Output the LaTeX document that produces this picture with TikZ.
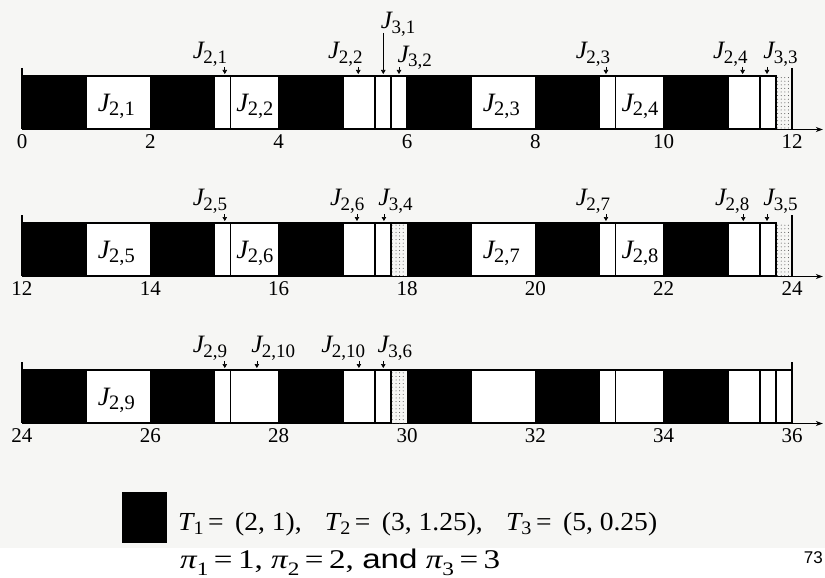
\documentclass[tikz,border=0pt]{standalone}
\usepackage{fontspec}
\usepackage{graphicx}
\setmainfont{Liberation Serif}
\newfontfamily\arialf{Liberation Sans}
\usetikzlibrary{arrows.meta,patterns.meta}
\definecolor{bg}{RGB}{246,246,244}
% J with subscript: #1 = subscript, #2 = lowering in pt
\newcommand{\Jm}[2]{{\fontsize{25}{27}\selectfont\itshape J}\kern-0.5pt\raisebox{-#2pt}{\fontsize{19}{20}\selectfont #1}}
\newcommand{\Jb}[1]{{\fontsize{26.5}{28}\selectfont\itshape J}\kern-0.5pt\raisebox{-4pt}{\fontsize{20.5}{22}\selectfont #1}}
\newcommand{\Tm}[1]{{\itshape T}\raisebox{-4pt}{\fontsize{19}{20}\selectfont #1}}
\newcommand{\Pm}[1]{{\itshape π}\raisebox{-7pt}{\fontsize{19}{20}\selectfont #1}}
\tikzset{
  wbox/.style={draw=black, fill=white, line width=1.4pt},
  bbox/.style={fill=black},
  dotbox/.style={fill=white, pattern={Dots[distance=3.6pt,radius=0.5pt]}, pattern color=black!75},
  edge/.style={draw=black, line width=1.2pt},
  axisline/.style={draw=black, line width=1.2pt, -{Stealth[length=7pt,width=5pt]}},
  jarrow/.style={draw=black, line width=0.6pt, -{Triangle[length=4pt,width=4.5pt]}},
  num/.style={font=\fontsize{21}{23}\selectfont, inner sep=0},
  blab/.style={inner sep=0},
  tlab/.style={inner sep=0}
}
\begin{document}
\begin{tikzpicture}[x=1pt,y=-1pt]
\useasboundingbox (0,0) rectangle (825,578);
\fill[bg] (0,0) rectangle (825,548);

\foreach \r in {0,1,2}{
 \begin{scope}[xshift=22pt, yshift={-\r*147pt}, x=64.17pt]
  \foreach \a in {0,2,4,6,8,10} \fill[bbox] (\a,76) rectangle (\a+1,129);
  \foreach \a/\b in {1/2,3/3.25,3.25/4,5/5.5,5.5/5.75,7/8,9/9.25,9.25/10,11/11.5,11.5/11.75}
     \draw[wbox] (\a,76) rectangle (\b,129);
  \draw[edge] (0,68) -- (0,129);
  \draw[edge] (12,68) -- (12,129);
  \coordinate (ax0-\r) at (0,129.5);
  \coordinate (ax1-\r) at (12.48,129.5);
  \draw[axisline] (ax0-\r) -- (ax1-\r);
  \foreach \k in {0,...,6}{
    \pgfmathtruncatemacro{\lab}{12*\r+2*\k}
    \node[num] (n-\r-\k) at (2*\k,142) {\lab};
  }
 \end{scope}
}

% ---------- row 1 ----------
\begin{scope}[xshift=22pt, x=64.17pt]
  \draw[wbox] (5.75,76) rectangle (6,129);
  \fill[dotbox] (11.75,77) rectangle (11.98,129);
  \draw[edge] (0,76) -- (11.75,76);
  \node[blab] (b21) at (1.47,106) {\Jb{2,1}};
  \node[blab] (b22) at (3.63,106) {\Jb{2,2}};
  \node[blab] (b23) at (7.47,106) {\Jb{2,3}};
  \node[blab] (b24) at (9.63,106) {\Jb{2,4}};
  % arrows
  \node[tlab, anchor=base east] (t21) at (3.2,59) {\Jm{2,1}{5}};
  \coordinate (s21) at (3.16,67); \coordinate (e21) at (3.16,74);
  \draw[jarrow] (s21) -- (e21);
  \node[tlab, anchor=base east] (t22) at (5.31,59) {\Jm{2,2}{5}};
  \coordinate (s22) at (5.24,67); \coordinate (e22) at (5.24,74);
  \draw[jarrow] (s22) -- (e22);
  \node[tlab, anchor=base west] (t31) at (5.59,29) {\Jm{3,1}{5}};
  \coordinate (s31) at (5.63,33); \coordinate (e31) at (5.63,74);
  \draw[jarrow] (s31) -- (e31);
  \node[tlab, anchor=base west] (t32) at (5.85,63) {\Jm{3,2}{4}};
  \coordinate (s32) at (5.875,67); \coordinate (e32) at (5.875,74);
  \draw[jarrow] (s32) -- (e32);
  \node[tlab, anchor=base east] (t23) at (9.17,59) {\Jm{2,3}{5}};
  \coordinate (s23) at (9.1,67); \coordinate (e23) at (9.1,74);
  \draw[jarrow] (s23) -- (e23);
  \node[tlab, anchor=base east] (t24) at (11.31,59) {\Jm{2,4}{5}};
  \coordinate (s24) at (11.23,67); \coordinate (e24) at (11.23,74);
  \draw[jarrow] (s24) -- (e24);
  \node[tlab, anchor=base west] (t33) at (11.55,59) {\Jm{3,3}{5}};
  \coordinate (s33) at (11.61,67); \coordinate (e33) at (11.61,74);
  \draw[jarrow] (s33) -- (e33);
\end{scope}

% ---------- row 2 ----------
\begin{scope}[xshift=22pt, yshift=-147pt, x=64.17pt]
  \fill[dotbox] (5.77,77) rectangle (5.98,129);
  \draw[edge] (5.75,76) -- (5.75,129);
  \fill[dotbox] (11.75,77) rectangle (11.98,129);
  \draw[edge] (0,76) -- (11.75,76);
  \node[blab] (b25) at (1.47,106) {\Jb{2,5}};
  \node[blab] (b26) at (3.63,106) {\Jb{2,6}};
  \node[blab] (b27) at (7.47,106) {\Jb{2,7}};
  \node[blab] (b28) at (9.63,106) {\Jb{2,8}};
  \node[tlab, anchor=base east] (t25) at (3.2,58) {\Jm{2,5}{5}};
  \coordinate (s25) at (3.16,67); \coordinate (e25) at (3.16,74);
  \draw[jarrow] (s25) -- (e25);
  \node[tlab, anchor=base east] (t26) at (5.34,58) {\Jm{2,6}{5}};
  \coordinate (s26) at (5.22,67); \coordinate (e26) at (5.22,74);
  \draw[jarrow] (s26) -- (e26);
  \node[tlab, anchor=base west] (t34) at (5.55,58) {\Jm{3,4}{5}};
  \coordinate (s34) at (5.64,67); \coordinate (e34) at (5.64,74);
  \draw[jarrow] (s34) -- (e34);
  \node[tlab, anchor=base east] (t27) at (9.17,58) {\Jm{2,7}{5}};
  \coordinate (s27) at (9.1,67); \coordinate (e27) at (9.1,74);
  \draw[jarrow] (s27) -- (e27);
  \node[tlab, anchor=base east] (t28) at (11.34,58) {\Jm{2,8}{5}};
  \coordinate (s28) at (11.24,67); \coordinate (e28) at (11.24,74);
  \draw[jarrow] (s28) -- (e28);
  \node[tlab, anchor=base west] (t35) at (11.55,58) {\Jm{3,5}{5}};
  \coordinate (s35) at (11.61,67); \coordinate (e35) at (11.61,74);
  \draw[jarrow] (s35) -- (e35);
\end{scope}

% ---------- row 3 ----------
\begin{scope}[xshift=22pt, yshift=-294pt, x=64.17pt]
  \fill[dotbox] (5.77,77) rectangle (5.98,129);
  \draw[edge] (5.75,76) -- (5.75,129);
  \draw[wbox] (11.75,76) rectangle (12,129);
  \draw[edge] (0,76) -- (12,76);
  \node[blab] (b29) at (1.47,106) {\Jb{2,9}};
  \node[tlab, anchor=base east] (t29) at (3.2,58) {\Jm{2,9}{5}};
  \coordinate (s29) at (3.16,67); \coordinate (e29) at (3.16,74);
  \draw[jarrow] (s29) -- (e29);
  \node[tlab, anchor=base west] (t210a) at (3.57,58) {\Jm{2,10}{5}};
  \coordinate (s210a) at (3.66,67); \coordinate (e210a) at (3.66,74);
  \draw[jarrow] (s210a) -- (e210a);
  \node[tlab, anchor=base east] (t210b) at (5.35,58) {\Jm{2,10}{5}};
  \coordinate (s210b) at (5.25,67); \coordinate (e210b) at (5.25,74);
  \draw[jarrow] (s210b) -- (e210b);
  \node[tlab, anchor=base west] (t36) at (5.54,58) {\Jm{3,6}{5}};
  \coordinate (s36) at (5.63,67); \coordinate (e36) at (5.63,74);
  \draw[jarrow] (s36) -- (e36);
\end{scope}

% ---------- legend ----------
\node[fill=black, inner sep=0, minimum width=45pt, minimum height=51pt, anchor=north west] (legend) at (122,492) {};
\node[anchor=base west, inner sep=0, font=\fontsize{26}{28}\selectfont] (tline) at (178,530)
  {\resizebox{479pt}{\height}{\Tm{1}\,=\, (2, 1),\hspace{22pt}\Tm{2}\,=\, (3, 1.25),\hspace{22pt}\Tm{3}\,=\, (5, 0.25)}};
\node[anchor=base west, inner sep=0, font=\fontsize{27}{29}\selectfont] (pline) at (180,568)
  {\resizebox{320pt}{\height}{\Pm{1}\,=\,1, \Pm{2}\,=\,2, {\arialf and} \Pm{3}\,=\,3}};
\node[anchor=base east, inner sep=0, font=\arialf\fontsize{17}{18}\selectfont] (pg) at (823,563) {73};
\end{tikzpicture}
\end{document}
